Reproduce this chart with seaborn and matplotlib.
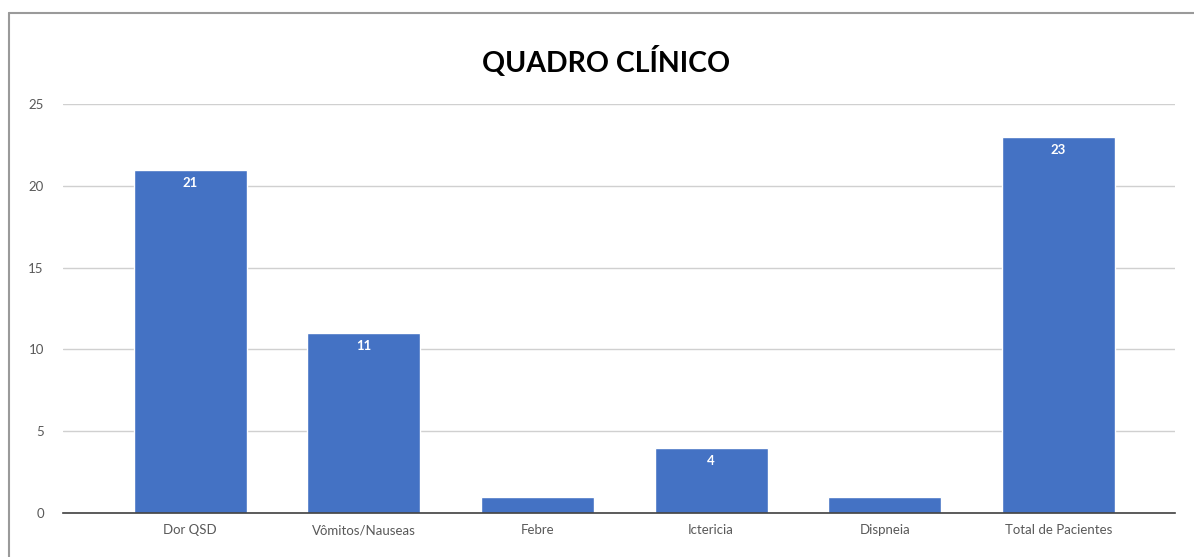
import seaborn as sns
import matplotlib.pyplot as plt
from matplotlib.lines import Line2D

# Data
categorias = ['Dor QSD', 'Vômitos/Nauseas', 'Febre', 'Ictericia', 'Dispneia', 'Total de Pacientes']
valores = [21, 11, 1, 4, 1, 23]

sns.set_style("white")
plt.rcParams['font.family'] = ['Lato', 'DejaVu Sans']

fig = plt.figure(figsize=(11.94, 5.57), dpi=100)
ax = fig.add_axes([0.053, 0.079, 0.931, 0.734])

sns.barplot(x=categorias, y=valores, color='#4472c4', saturation=1,
            width=0.65, ax=ax)

ax.set_xlim(-0.73, 5.67)
ax.set_ylim(0, 25)
ax.set_yticks(range(0, 26, 5))
ax.set_xlabel('')
ax.tick_params(axis='both', labelsize=9.5, colors='#595959', length=0, pad=8)
ax.tick_params(axis='y', pad=14)
ax.yaxis.grid(True, color='#d0d0d0', linewidth=1)
ax.set_axisbelow(True)
for s in ['top', 'right', 'left']:
    ax.spines[s].set_visible(False)
ax.spines['bottom'].set_color('#404040')
ax.spines['bottom'].set_linewidth(1.2)

# Value labels (only where the bar is tall enough)
for i, v in enumerate(valores):
    if v >= 2:
        ax.text(i, v - 0.45, str(v), ha='center', va='top', color='white',
                fontsize=9.5, fontweight='bold')

fig.text(0.508, 0.89, 'QUADRO CLÍNICO', ha='center', va='center',
         fontsize=20.5, fontweight='bold', color='black')

# Outer frame of the screenshot
fig.add_artist(Line2D([0.0075, 1.0], [0.977, 0.977], color='#9a9a9a', linewidth=1.5))
fig.add_artist(Line2D([0.0075, 0.0075], [0.0, 0.977], color='#9a9a9a', linewidth=1.5))

plt.savefig('out.png', dpi=100)
